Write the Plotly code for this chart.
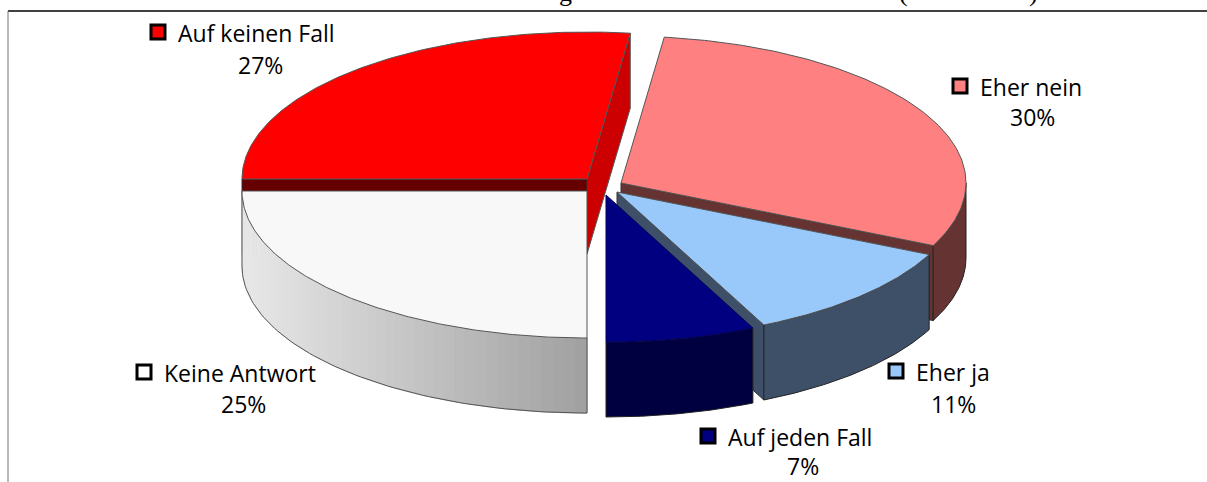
import numpy as np
import plotly.graph_objects as go

categories = ["Eher nein", "Eher ja", "Auf jeden Fall", "Keine Antwort", "Auf keinen Fall"]
shares = [30, 11, 7, 25, 27]
top_colors = ["#ff8080", "#99c8fa", "#000080", "#f8f8f8", "#ff0000"]
side_colors = ["#663333", "#3d5068", "#000040", "#bdbdbd", "#660000"]
title_fragments = ["g", "(", ")"]
title_fragment_x = [565, 903, 1033]
apex_x = [621, 617, 606, 587, 587]
apex_y = [183, 192, 195, 191, 179]
label_marker_x = [960, 896, 708, 144, 158]
label_marker_y = [86, 371, 436, 372, 32]
label_pct_x = [1032, 953, 803, 243, 260]
label_pct_y = [117, 404, 466, 404, 65]

START, RX, RY, DEPTH = 7.2, 345.0, 147.0, 75.0
EDGE = "#555555"

fig = go.Figure()


def pt(i, ang):
    a = np.radians(ang)
    return apex_x[i] + RX * np.sin(a), apex_y[i] - RY * np.cos(a)


def poly(xs, ys, fill, line=None, width=1):
    fig.add_trace(go.Scatter(
        x=list(xs) + [xs[0]], y=list(ys) + [ys[0]], mode="lines", fill="toself",
        fillcolor=fill, line=dict(color=line or fill, width=width if line else 0),
        hoverinfo="skip", showlegend=False))


cum = START + np.concatenate([[0], np.cumsum(shares)]) * 3.6
bounds = [(cum[i], cum[i + 1]) for i in range(len(shares))]


def grey_at(t):
    v = int(round(232 + (160 - 232) * t))
    return f"rgb({v},{v},{v})"


def draw(i):
    a0, a1 = bounds[i]
    ax, ay = apex_x[i], apex_y[i]
    # cut faces
    if i == 4:
        ex, ey = pt(i, a1)
        poly([ax, ex, ex, ax], [ay, ey, ey + DEPTH, ay + DEPTH], "#cc0000", EDGE)
    if i in (0, 1, 4):
        ang = a1 if i != 4 else a0
        ex, ey = pt(i, ang)
        poly([ax, ex, ex, ax], [ay, ey, ey + DEPTH, ay + DEPTH], side_colors[i], "#333333")
    # outer rim
    s0, s1 = max(a0, 90), min(a1, 270)
    if s1 > s0:
        if i == 3:
            n = 48
            edges = np.linspace(s1, s0, n + 1)
            for k in range(n):
                arc = np.linspace(edges[k], edges[k + 1], 6)
                px, py = pt(i, arc)
                c = grey_at((px.mean() - (ax - RX)) / RX)
                poly(list(px) + list(px[::-1]), list(py) + list(py[::-1] + DEPTH), c, c)
            arc = np.linspace(s0, s1, 80)
            px, py = pt(i, arc)
            fig.add_trace(go.Scatter(
                x=[px[0]] + list(px) + [px[-1]], y=[py[0]] + list(py + DEPTH) + [py[-1]], mode="lines",
                line=dict(color=EDGE, width=1), hoverinfo="skip", showlegend=False))
        else:
            arc = np.linspace(s0, s1, 80)
            px, py = pt(i, arc)
            poly(list(px) + list(px[::-1]), list(py) + list(py[::-1] + DEPTH),
                 side_colors[i], "#222222")
    # top surface
    arc = np.linspace(a0, a1, 160)
    px, py = pt(i, arc)
    poly([ax] + list(px), [ay] + list(py), top_colors[i], EDGE if i != 2 else "#000060")


for idx in [4, 0, 1, 3, 2]:
    draw(idx)

# labels
for i, name in enumerate(categories):
    fig.add_trace(go.Scatter(
        x=[label_marker_x[i]], y=[label_marker_y[i]], mode="markers",
        marker=dict(symbol="square", size=14, color=top_colors[i] if i != 3 else "#ffffff",
                    line=dict(color="#000000", width=3)),
        hoverinfo="skip", showlegend=False))
    fig.add_annotation(x=label_marker_x[i] + 21, y=label_marker_y[i] + 1, text=name, showarrow=False,
                       xanchor="left", yanchor="middle", xshift=-3,
                       font=dict(family="Open Sans", size=23, color="#000000"))
    fig.add_annotation(x=label_pct_x[i], y=label_pct_y[i], text=f"{shares[i]}%", showarrow=False,
                       xanchor="center", yanchor="middle",
                       font=dict(family="Open Sans", size=23, color="#000000"))

# title (cut off by the top edge in the reference: only descenders show)
for frag, fx in zip(title_fragments, title_fragment_x):
    fig.add_annotation(x=fx, xref="x", y=1, yref="paper", text=frag, showarrow=False,
                       xanchor="center", yanchor="bottom", yshift=-9,
                       font=dict(family="Liberation Serif", size=26, color="#000000"))

# frame
fig.add_shape(type="line", x0=8, x1=1207, y0=11, y1=11, line=dict(color="#000000", width=1.5))
fig.add_shape(type="line", x0=8, x1=8, y0=11, y1=482, line=dict(color="#777777", width=1))

fig.update_layout(
    width=1207, height=482, margin=dict(l=0, r=0, t=0, b=0),
    paper_bgcolor="#ffffff", plot_bgcolor="#ffffff", showlegend=False,
    xaxis=dict(range=[0, 1207], visible=False, fixedrange=True),
    yaxis=dict(range=[482, 0], visible=False, fixedrange=True),
)
fig.write_html("out.html", config=dict(displayModeBar=False),
               post_script="document.body.style.margin='0';document.body.style.overflow='hidden';")
